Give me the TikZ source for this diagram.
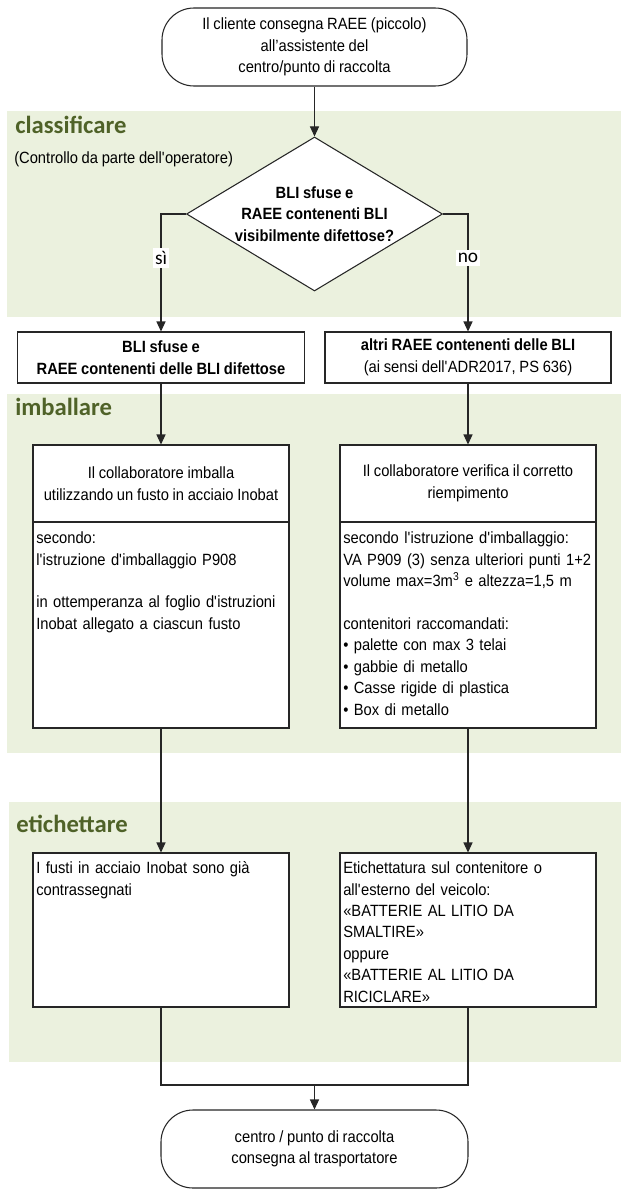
\documentclass[tikz,border=0pt]{standalone}
\usepackage{fontspec}
\setmainfont{Liberation Sans}[FakeStretch=0.905,WordSpace=0.9]
\newfontfamily\calib{Carlito}
\usetikzlibrary{shapes.geometric,arrows.meta}
\definecolor{bandc}{HTML}{EBF1DE}
\definecolor{headc}{HTML}{4F6228}
\definecolor{linec}{HTML}{262626}
\newcommand{\q}{\textquotesingle}
\newcommand{\bodyfont}{\fontsize{12.2}{16.1}\selectfont}
\begin{document}
\begin{tikzpicture}[x=0.75pt,y=-0.75pt]
\tikzset{
 every node/.style={font=\bodyfont, inner sep=0pt},
 band/.style={fill=bandc},
 box/.style={draw=linec, line width=0.8pt, fill=white, rectangle, inner sep=0pt},
 term/.style={draw=linec, line width=0.8pt, fill=white, rounded corners=24pt, align=center},
 conn/.style={draw=linec, line width=0.8pt},
 arr/.style={conn, -{Triangle[length=7.5pt,width=6.8pt]}},
 heading/.style={font=\calib\bfseries\fontsize{18.5}{20}\selectfont, text=headc, anchor=base west},
 lab/.style={fill=white, font=\calib\fontsize{14.5}{16}\selectfont, inner xsep=1.5pt, inner ysep=2.5pt},
 txt/.style={align=left, anchor=north west, text width=188pt}
}
\useasboundingbox (0,0) rectangle (621,1195);
% bands
\fill[band] (7,111) rectangle (621,317);
\fill[band] (7,394) rectangle (621,753);
\fill[band] (9,802) rectangle (621,1062);
% headings
\node[heading] (h1) at (15,134) {classificare};
\node[anchor=base west] (h1s) at (14,164) {(Controllo da parte dell\q operatore)};
\node[heading] (h2) at (15,415) {imballare};
\node[heading] (h3) at (16,832) {etichettare};
% start
\node[term, minimum width=228.75pt, minimum height=58.5pt] (start) at (314.5,47)
 {Il cliente consegna RAEE (piccolo)\\all’assistente del\\centro/punto di raccolta};
% decision
\node[diamond, draw=linec, line width=0.8pt, fill=white, minimum width=192pt, minimum height=115.5pt] (dec) at (314.5,214) {};
\node[align=center, font=\bodyfont\bfseries] (dect) at (dec.center)
 {BLI sfuse e\\RAEE contenenti BLI\\visibilmente difettose?};
% row 2
\node[box, minimum width=215.25pt, minimum height=38.25pt, align=center, font=\bodyfont\bfseries] (b1) at (161,357.5)
 {BLI sfuse e\\RAEE contenenti delle BLI difettose};
\node[box, minimum width=214.5pt, minimum height=38.25pt, align=center] (b2) at (468,357.5)
 {\textbf{altri RAEE contenenti delle BLI}\\(ai sensi dell\q ADR2017, PS 636)};
% row 3
\node[box, minimum width=192pt, minimum height=57.75pt, align=center] (c1) at (161,483.5)
 {Il collaboratore imballa\\utilizzando un fusto in acciaio Inobat};
\node[box, minimum width=192pt, minimum height=154.5pt] (c1b) at (161,625) {};
\node[txt] (c1t) at (36,531.5)
 {secondo:\\l\q istruzione d\q imballaggio P908\\[16.1pt]in ottemperanza al foglio d\q istruzioni\\Inobat allegato a ciascun fusto};
\node[box, minimum width=192pt, minimum height=57.75pt, align=center] (c2) at (468,483.5)
 {Il collaboratore verifica il corretto\\riempimento};
\node[box, minimum width=192pt, minimum height=154.5pt] (c2b) at (468,625) {};
\node[txt] (c2t) at (343,531.5)
 {secondo l\q istruzione d\q imballaggio:\\VA P909 (3) senza ulteriori punti 1+2\\volume max=3m\textsuperscript{3} e altezza=1,5 m\\[16.1pt]contenitori raccomandati:\\\textbullet\ palette con max 3 telai\\\textbullet\ gabbie di metallo\\\textbullet\ Casse rigide di plastica\\\textbullet\ Box di metallo};
% row 4
\node[box, minimum width=192pt, minimum height=115.5pt] (d1) at (161,930) {};
\node[txt] (d1t) at (36,861.5) {I fusti in acciaio Inobat sono già\\contrassegnati};
\node[box, minimum width=192pt, minimum height=115.5pt] (d2) at (468,930) {};
\node[txt] (d2t) at (343,861.5) {Etichettatura sul contenitore o\\all\q esterno del veicolo:\\«BATTERIE AL LITIO DA\\SMALTIRE»\\oppure\\«BATTERIE AL LITIO DA\\RICICLARE»};
% end
\node[term, minimum width=230.25pt, minimum height=58.5pt] (end) at (314.5,1149)
 {centro / punto di raccolta\\consegna al trasportatore};
% connectors
\draw[arr] (start) -- (dec);
\draw[arr] (dec.west) -| (b1.north);
\draw[arr] (dec.east) -| (b2.north);
\draw[arr] (b1) -- (c1);
\draw[arr] (b2) -- (c2);
\draw[arr] (c1b) -- (d1);
\draw[arr] (c2b) -- (d2);
\coordinate (j) at (314.5,1085);
\draw[conn] (d1.south) |- (j);
\draw[conn] (d2.south) |- (j);
\draw[arr] (j) -- (end);
% labels
\node[lab] (si) at (161,258) {sì};
\node[lab] (no) at (468,258) {no};
\end{tikzpicture}
\end{document}
